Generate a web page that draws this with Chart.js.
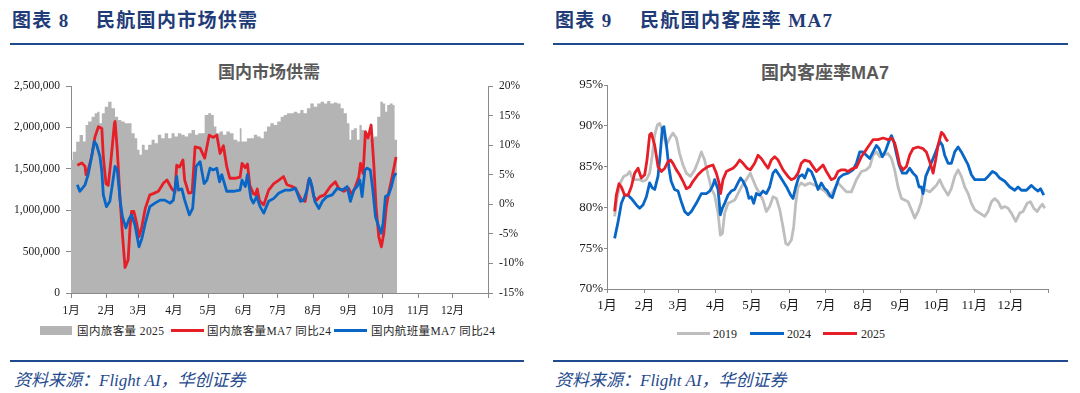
<!DOCTYPE html>
<html lang="zh-CN">
<head>
<meta charset="utf-8">
<title>民航国内市场供需 / 客座率</title>
<script src="https://cdn.jsdelivr.net/npm/chart.js@4.4.1/dist/chart.umd.min.js"></script>
<style>
    body { margin: 0; width: 1080px; height: 393px; background: #fff; position: relative; overflow: hidden;
           font-family: "Liberation Serif", "Noto Sans CJK SC", serif; }
    .abs { position: absolute; white-space: nowrap; }
    .head { font-size: 19px; font-weight: bold; color: #1f3c78; line-height: 20px; top: 11px; letter-spacing: 1.3px; }
    .rule { position: absolute; height: 2px; background: #1f4b8e; }
    .ctitle { font-family: "Liberation Sans", "Noto Sans CJK SC", sans-serif; font-weight: bold; color: #595959;
              line-height: 20px; top: 63px; transform: translateX(-50%); }
    .leg { font-size: 11.5px; color: #262626; line-height: 14px; top: 324px; letter-spacing: 0.4px; }
    .leg2 { font-size: 12px; color: #262626; line-height: 14px; top: 327px; }
    .src { font-style: italic; font-size: 17px; color: #1f4b8e; top: 371px; line-height: 20px; }
    canvas { position: absolute; top: 50px; }
</style>
</head>
<body>
<!-- left panel -->
<div class="abs head" style="left:12px">图表 8</div>
<div class="abs head" style="left:96px">民航国内市场供需</div>
<div class="rule" style="left:10px;width:514px;top:43px"></div>
<div class="abs ctitle" style="left:269px;font-size:17px">国内市场供需</div>
<canvas id="supplyChart" width="540" height="270" style="left:0"></canvas>
<div class="abs" style="left:40px;top:326px;width:32px;height:9px;background:#b4b4b4"></div>
<div class="abs leg" style="left:77px">国内旅客量 2025</div>
<div class="abs" style="left:171px;top:329px;width:33px;height:3px;background:#e61e28"></div>
<div class="abs leg" style="left:207px">国内旅客量MA7 同比24</div>
<div class="abs" style="left:334px;top:329px;width:33px;height:3px;background:#0866c6"></div>
<div class="abs leg" style="left:371px">国内航班量MA7 同比24</div>
<div class="rule" style="left:10px;width:514px;top:360px"></div>
<div class="abs src" style="left:14px">资料来源：Flight AI，华创证券</div>

<!-- right panel -->
<div class="abs head" style="left:555px">图表 9</div>
<div class="abs head" style="left:640px">民航国内客座率 MA7</div>
<div class="rule" style="left:553px;width:515px;top:43px"></div>
<div class="abs ctitle" style="left:825px;font-size:18px">国内客座率MA7</div>
<canvas id="loadChart" width="540" height="270" style="left:540px"></canvas>
<div class="abs" style="left:677px;top:332px;width:33px;height:3px;background:#bebebe"></div>
<div class="abs leg2" style="left:713px">2019</div>
<div class="abs" style="left:750px;top:332px;width:34px;height:3px;background:#0866c6"></div>
<div class="abs leg2" style="left:787px">2024</div>
<div class="abs" style="left:823px;top:332px;width:34px;height:3px;background:#e61e28"></div>
<div class="abs leg2" style="left:861px">2025</div>
<div class="rule" style="left:553px;width:515px;top:360px"></div>
<div class="abs src" style="left:555px">资料来源：Flight AI，华创证券</div>

<script>
// --- shared x axis: day of year, ticks at month starts ---
const monthStarts = [0, 31, 59, 90, 120, 151, 181, 212, 243, 273, 304, 334, 365];
const monthLabels = ['1月', '2月', '3月', '4月', '5月', '6月', '7月', '8月', '9月', '10月', '11月', '12月', ''];

// --- 图表8: domestic passengers 2025 (daily) ---
const paxDays = [0, 3, 6, 9, 12, 13.5, 16.5, 19.5, 22, 24, 26, 28, 31, 34, 37, 40, 42.5, 45.5, 48.5, 51.5,
    54.5, 57, 59, 61, 63, 66, 69, 72, 74.5, 77.5, 80.5, 83.5, 86.5, 89.5, 92, 95, 98, 101, 104, 107,
    110, 112.5, 115.5, 118.5, 121.5, 124, 126, 128.5, 131.5, 134.5, 137.5, 140.5, 144, 147, 148.5, 150, 152.5, 155.5, 158.5, 161.5,
    164.5, 167.5, 170, 173, 176, 179, 182, 185, 187.5, 190.5, 193.5, 196.5, 199.5, 202, 205, 208, 211, 214, 217, 220,
    223, 225.5, 228.5, 231.5, 234.5, 237.5, 240, 243, 244.5, 246, 249, 251.5, 253.5, 255.5, 257.5, 260.5, 263.5, 266.5, 269.5, 272,
    274, 276, 277.5, 280.5, 282.5, 284, 285.5];
const paxValues = [1606000, 1707000, 1827000, 1908000, 1830000, 2030000, 2070000, 2130000, 2170000, 2190000,
    2050000, 2170000, 2250000, 2310000, 2230000, 2130000, 2090000, 2070000, 2050000, 2050000,
    1930000, 1870000, 1730000, 1670000, 1790000, 1730000, 1790000, 1850000, 1810000, 1910000,
    1870000, 1930000, 1870000, 1930000, 1890000, 1930000, 1910000, 1890000, 1930000, 1970000,
    1910000, 1930000, 1930000, 2150000, 2170000, 2150000, 2010000, 1930000, 1950000, 1910000,
    1950000, 1930000, 1850000, 1830000, 1990000, 1830000, 1830000, 1870000, 1870000, 1910000,
    1890000, 1870000, 1950000, 2010000, 2050000, 2030000, 2070000, 2130000, 2150000, 2170000,
    2170000, 2190000, 2170000, 2210000, 2170000, 2230000, 2290000, 2250000, 2290000, 2310000,
    2290000, 2320000, 2290000, 2300000, 2290000, 2230000, 2170000, 2050000, 1850000, 1970000,
    1990000, 1850000, 2030000, 1970000, 1870000, 1910000, 1870000, 1890000, 2130000, 2310000,
    2290000, 2190000, 2270000, 2290000, 2270000, 1850000, 1850000];

// passengers MA7, yoy vs 2024 (%)
const paxYoYDays = [5.5, 9.5, 12.3, 13.2, 15, 18, 21, 24, 27, 28.3, 30.6, 32.6, 35, 38, 38.6, 40.5, 43, 45, 47.3, 50,
    51.7, 53, 55, 57.5, 59.5, 62, 65, 69, 72, 76.5, 81, 84, 88, 91, 92.5, 95, 98, 99.5, 103, 106,
    108.6, 113, 117, 121, 124.5, 127.6, 130.5, 133.4, 136.3, 139, 143.5, 148, 149.7, 152.5, 154.5, 156.5, 159.6, 161.4, 163, 165,
    168.7, 173, 177.5, 182, 186, 189, 193.5, 196.5, 199.4, 202, 205, 208, 209.5, 212.5, 215, 218, 222, 227, 231.4, 234.3,
    238.8, 243, 246, 249, 252, 253.4, 255.7, 257.7, 260, 262.7, 265, 267, 269.4, 271.7, 273.8, 276, 278, 280.5, 282.6, 284.5];
const paxYoY = [6.6, 7.0, 6.4, 5.0, 5.8, 8.0, 11.4, 13.1, 12.8, 8.0, 3.5, 3.2, 7.5, 13.7, 14.0, 9.2, 0.7, -5.0, -10.7, -9.4,
    -3.8, -1.2, -1.2, -3.2, -5.5, -3.8, -0.7, 1.6, 1.8, 2.2, 3.6, 4.1, 2.7, 2.0, 6.6, 6.3, 7.5, 4.1, 1.9, 2.0,
    9.7, 9.5, 7.8, 11.7, 11.3, 11.7, 8.6, 9.9, 6.4, 4.4, 4.4, 4.6, 6.9, 6.2, 6.8, 3.2, 1.8, 1.6, 2.6, 0.6,
    -0.1, 2.4, 3.5, 4.1, 4.7, 3.3, 3.0, 2.7, 1.6, 0.7, 0.5, 4.1, 4.1, 1.3, 0.7, 1.3, 1.6, 3.0, 3.8, 2.7,
    2.2, 2.7, 1.6, 3.0, 4.7, 6.9, 5.2, 12.3, 11.2, 13.4, 6.9, -0.4, -5.5, -7.2, -4.9, -0.4, 1.9, 4.1, 6.1, 8.0];

// flights MA7, yoy vs 2024 (%)
const flightYoYDays = [5.5, 7.7, 12.3, 15, 18, 20.4, 22.5, 25.4, 27, 28.3, 31, 34, 35.5, 38.5, 40.5, 43, 45, 48, 51, 53,
    56, 59.5, 62, 65, 69, 73.5, 78, 82, 86.7, 89.6, 92.5, 94, 97, 99.5, 103.6, 106.5, 109.5, 113, 116.5, 119,
    121.7, 124.5, 127.6, 130, 132, 136.3, 142, 148, 149.7, 152.6, 154.4, 157.5, 159.6, 162.5, 165.5, 168.7, 173, 177.5, 182, 187.7,
    192, 196.4, 200.8, 203.7, 206.6, 208.7, 211, 213.4, 217, 220, 224, 228.6, 233, 237.5, 241.7, 244.6, 247.5, 250.4, 252.8, 254.8,
    257.2, 259.2, 262, 264.2, 266.5, 269.4, 271.5, 273.2, 275.2, 278, 280.5, 282.6, 284.5];
const flightYoY = [3.3, 2.2, 3.3, 5.0, 8.0, 10.6, 10.0, 8.0, 5.5, 1.6, -0.4, 0.5, 2.4, 6.4, 5.8, 0.7, -2.1, -4.0, -2.4, -1.8,
    -3.5, -7.2, -5.8, -3.2, -0.4, 0.2, 0.7, 0.7, 0.2, 0.7, 4.7, 2.4, 2.6, 0.7, -1.8, -0.7, 6.4, 7.2, 3.5, 4.1,
    6.1, 5.8, 6.1, 3.8, 5.0, 2.2, 2.2, 2.4, 4.1, 3.0, 5.0, 1.0, 0.2, 1.3, -0.4, -1.5, 0.5, 1.0, 1.9, 2.4,
    2.4, 2.7, 0.5, 0.7, 2.4, 4.4, 3.0, 0.5, -0.7, 0.5, 1.3, 1.6, 2.7, 2.4, 3.0, 0.5, 2.4, 3.0, 4.1, 1.3,
    5.8, 6.1, 5.8, 2.4, -2.1, -3.8, -4.9, -3.2, 1.3, 1.6, 3.0, 4.7, 5.3];

const paxTicks = { min: 0, max: 2500000, step: 500000 };
const yoyTicks = { min: -15, max: 20, step: 5 };

// --- 图表9: domestic load factor MA7 (%) ---
const lf2019Days = [6.3, 8.3, 11, 13.8, 16.6, 18.8, 21.5, 24.3, 27, 29.8, 32.6, 35.3, 37.5, 39.5, 41.7, 43.6, 45.8, 49, 51.9, 54.6,
    57.4, 60.1, 62.9, 65.7, 69, 72.6, 75.3, 78.1, 80.8, 83.6, 86.4, 89.1, 91.9, 93.8, 95.5, 97.4, 100.2, 102.9, 105.7, 108.4,
    111.2, 115.3, 118.6, 120.8, 123.6, 126.4, 129.1, 131.9, 134.6, 137.4, 140.2, 143, 145.7, 147.9, 149.8, 152.6, 154.5, 156.2, 158.1, 160.8,
    163.6, 167.8, 171.9, 176, 180.2, 184.3, 191.2, 198.1, 202.3, 206.4, 210.5, 214.7, 217.5, 220.2, 223, 225.8, 228.5, 232.6, 235.4, 238.1,
    240.9, 243.7, 246.4, 249.2, 252, 254.7, 257.5, 260.2, 261.6, 264.4, 267.1, 269.9, 272.6, 275.4, 278.1, 282.3, 285, 287.8, 290.6, 293.3,
    296.1, 298.9, 301.6, 304.4, 308.5, 312.6, 315.4, 318.2, 320.9, 323.7, 326.4, 329.2, 332, 334.7, 338.3, 341.6, 344.4, 347.7, 350.4, 353.2,
    356, 358.7, 360.4, 362.3];
const lf2019 = [78.9, 81.1, 83.0, 83.8, 84.0, 84.4, 83.4, 83.4, 83.4, 83.2, 83.4, 84.2, 86.4, 88.9, 90.1, 90.3, 89.5, 87.6, 88.5, 89.1,
    88.5, 86.6, 85.2, 84.2, 83.8, 84.6, 85.6, 86.8, 85.8, 84.0, 82.3, 81.5, 79.3, 76.6, 76.8, 79.3, 80.5, 80.7, 80.9, 81.7,
    82.5, 83.4, 84.2, 83.4, 82.4, 81.7, 80.9, 79.5, 80.1, 81.3, 81.1, 79.7, 77.6, 75.6, 75.4, 76.0, 77.6, 80.5, 82.5, 83.0,
    82.7, 83.0, 82.7, 82.4, 82.0, 81.3, 83.0, 81.9, 81.9, 83.4, 84.4, 84.6, 85.0, 86.4, 86.8, 86.2, 86.4, 86.6, 86.0, 84.6,
    82.5, 81.1, 80.9, 80.7, 79.7, 78.7, 79.5, 80.7, 82.1, 82.1, 81.9, 82.3, 82.7, 83.4, 82.5, 81.5, 82.3, 83.8, 84.6, 83.8,
    82.5, 81.7, 80.5, 79.7, 79.3, 78.9, 79.5, 80.7, 81.1, 80.7, 79.9, 80.1, 79.9, 79.3, 78.3, 79.3, 79.5, 80.5, 80.7, 79.9,
    79.5, 80.1, 80.4, 79.9];

const lf2024Days = [6.3, 9, 11.9, 14.6, 17.4, 20.1, 24.3, 27, 29.8, 32.6, 35.3, 37.5, 39.5, 42.2, 44.1, 45.8, 47.1, 49, 51.3, 53.1,
    55.9, 58.8, 61.5, 64.3, 67.1, 69.8, 73.9, 78.1, 82.2, 85, 87.7, 89.1, 91.9, 93.8, 95.5, 97.4, 100.2, 102.9, 105.7, 108.4,
    110.6, 112.6, 115.3, 117.5, 119.5, 121.4, 123.6, 126.4, 129.1, 131.9, 134.6, 137.4, 139.6, 142.3, 145.7, 149, 152, 154, 156.2, 158.9,
    161.7, 163.6, 166.4, 169.1, 171.9, 174.7, 177.4, 180.2, 182, 184.3, 186.5, 189.3, 192, 195.4, 199.5, 203.6, 206.4, 209.2, 211.9, 214.7,
    217.5, 220.2, 223, 225.2, 227.9, 230.7, 233.4, 235.4, 237.3, 239.5, 241.7, 244.5, 247.8, 250.5, 253.3, 256, 258.3, 260.2, 261.6, 263.8,
    266.6, 269.9, 272.6, 275.4, 277.6, 279.5, 282.3, 285, 287.8, 290.6, 293.3, 296.1, 298.9, 301.6, 304.4, 308.5, 312.6, 315.4, 319, 321.7,
    325, 329.2, 333.4, 337.5, 340.2, 343, 347.1, 351.3, 354, 356.8, 358.8, 361.5];
const lf2024 = [76.2, 78.1, 80.5, 81.5, 81.5, 81.1, 80.3, 79.9, 80.3, 81.3, 83.0, 82.4, 82.2, 83.8, 86.6, 89.7, 89.9, 87.9, 84.8, 83.2,
    82.2, 82.0, 80.7, 79.5, 79.1, 79.5, 80.5, 81.7, 81.7, 82.0, 82.7, 83.4, 82.2, 79.1, 79.9, 80.5, 81.5, 82.0, 82.2, 83.0,
    83.6, 83.2, 82.4, 81.1, 81.3, 80.5, 81.7, 81.5, 82.0, 81.7, 82.5, 84.2, 84.6, 84.0, 83.2, 82.4, 81.5, 81.1, 82.5, 83.8,
    84.0, 83.6, 84.7, 84.4, 83.4, 82.2, 83.0, 82.3, 82.1, 81.5, 81.2, 82.5, 83.6, 84.0, 84.2, 84.6, 85.4, 86.8, 86.8, 86.4,
    86.0, 86.8, 87.6, 87.2, 86.2, 87.0, 88.1, 88.8, 88.1, 86.6, 85.2, 84.2, 84.2, 84.8, 84.2, 83.8, 82.5, 82.5, 81.7, 83.8,
    84.8, 86.0, 87.0, 88.1, 87.6, 86.4, 85.4, 85.4, 86.8, 87.4, 86.8, 86.0, 85.2, 84.0, 83.4, 83.4, 83.4, 83.8, 84.4, 84.2,
    83.6, 83.2, 82.5, 82.1, 82.5, 82.1, 82.1, 82.7, 82.3, 82.0, 82.3, 81.5];

const lf2025Days = [6.3, 7.7, 9.9, 11.9, 14.6, 17.4, 20.1, 22.9, 25.7, 28.4, 31.2, 33.1, 35.3, 36.7, 39.5, 42.2, 45, 47.8, 50.5, 52.7,
    54.6, 57.4, 60.1, 62.9, 65.7, 68.4, 71.2, 75.3, 79.5, 83.6, 87.7, 90.5, 92.7, 94, 96, 98.8, 101.5, 104.3, 107, 109.8,
    112.6, 115.9, 118.6, 122.2, 125, 127.7, 130.4, 133.3, 136, 138.8, 141.6, 145.7, 149.8, 152.6, 155.4, 158.1, 160.8, 163.6, 167.8, 170.5,
    173.3, 176, 178.8, 181.6, 185.7, 188.5, 191.2, 194, 196.7, 199.5, 202.3, 206.4, 210.5, 213.3, 216, 220.2, 224.3, 228.5, 232.6, 235.4,
    238.1, 240, 242.3, 245, 247.8, 250.5, 253.3, 257.4, 261.6, 264.3, 267.1, 269.9, 272, 274, 276.8, 278.8, 280.9, 282.3];
const lf2025 = [79.5, 81.5, 82.9, 82.5, 81.5, 81.5, 82.5, 84.2, 84.8, 83.6, 84.0, 85.8, 88.9, 89.1, 87.6, 85.0, 84.4, 84.8, 85.6, 85.8,
    85.4, 84.6, 84.0, 83.2, 82.3, 82.5, 83.2, 84.0, 84.6, 85.0, 85.2, 84.2, 83.0, 81.7, 83.4, 84.4, 84.6, 84.8, 85.2, 85.8,
    85.4, 84.8, 84.6, 85.4, 86.4, 86.0, 85.4, 84.8, 85.8, 86.2, 85.8, 84.6, 83.8, 83.4, 83.6, 84.2, 85.4, 85.8, 85.6, 85.0,
    84.4, 84.8, 85.2, 84.4, 83.4, 83.6, 84.4, 84.6, 84.6, 84.4, 84.7, 84.9, 86.2, 86.8, 87.4, 88.3, 88.3, 88.5, 88.3, 88.5,
    87.9, 86.8, 85.2, 84.6, 85.0, 86.4, 87.2, 87.4, 87.2, 86.8, 85.6, 84.2, 85.8, 87.6, 89.2, 88.9, 88.3, 88.1];

const lfTicks = { min: 70, max: 95, step: 5 };

// --- styling helpers ---
const AXIS = '#8a8a8a';
const TICK_FONT = '"Liberation Serif", "Noto Sans CJK SC", serif';
const RED = '#e61e28';
const BLUE = '#0866c6';

const toPoints = (days, values) => days.map((d, i) => ({ x: d, y: values[i] }));

const lineSet = (label, days, values, color, axis, order) => ({
    label, data: toPoints(days, values), yAxisID: axis, order,
    borderColor: color, borderWidth: 2.8, pointRadius: 0, fill: false,
    tension: 0, borderJoinStyle: 'round',
});

const dayAxis = (height, fontSize, tickLength, padding) => ({
    type: 'linear', min: 0, max: 365,
    afterBuildTicks: s => { s.ticks = monthStarts.map(v => ({ value: v })); },
    afterFit: s => { s.height = height; },
    grid: { drawOnChartArea: false, color: AXIS, tickLength },
    border: { color: AXIS, width: 1 },
    ticks: {
        autoSkip: false, maxRotation: 0, padding, color: '#1a1a1a',
        font: { family: TICK_FONT, size: fontSize },
        callback: (v, i) => monthLabels[i],
    },
});

const valueAxis = (position, range, width, fontSize, tickLength, padding, fmt) => ({
    position, min: range.min, max: range.max,
    afterFit: s => { s.width = width; },
    grid: { drawOnChartArea: false, color: AXIS, tickLength },
    border: { color: AXIS, width: 1 },
    ticks: {
        stepSize: range.step, padding, color: '#1a1a1a',
        font: { family: TICK_FONT, size: fontSize },
        callback: fmt,
    },
});

const baseOptions = (padding, scales) => ({
    responsive: false, animation: false, devicePixelRatio: 1,
    layout: { padding },
    plugins: { legend: { display: false }, tooltip: { enabled: false } },
    scales,
});

// --- 图表8 ---
new Chart(document.getElementById('supplyChart'), {
    type: 'line',
    data: {
        datasets: [
            {
                label: '国内旅客量 2025', data: toPoints(paxDays, paxValues), yAxisID: 'y', order: 3,
                stepped: 'middle', fill: 'origin', backgroundColor: '#b4b4b4',
                borderColor: 'rgba(0,0,0,0)', borderWidth: 0, pointRadius: 0,
            },
            lineSet('国内旅客量MA7 同比24', paxYoYDays, paxYoY, RED, 'y1', 2),
            lineSet('国内航班量MA7 同比24', flightYoYDays, flightYoY, BLUE, 'y1', 1),
        ],
    },
    options: baseOptions({ top: 36, left: 0, right: 0, bottom: 0 }, {
        x: dayAxis(27, 11.5, 5, 6),
        y: valueAxis('left', paxTicks, 71, 11.5, 5, 6, v => v.toLocaleString('en-US')),
        y1: valueAxis('right', yoyTicks, 52, 11.5, 5, 6, v => v + '%'),
    }),
});

// --- 图表9 ---
new Chart(document.getElementById('loadChart'), {
    type: 'line',
    data: {
        datasets: [
            lineSet('2019', lf2019Days, lf2019, '#bebebe', 'y', 3),
            lineSet('2024', lf2024Days, lf2024, BLUE, 'y', 2),
            lineSet('2025', lf2025Days, lf2025, RED, 'y', 1),
        ],
    },
    options: baseOptions({ top: 35, left: 0, right: 32, bottom: 0 }, {
        x: dayAxis(31, 13, 4, 5),
        y: valueAxis('left', lfTicks, 67, 13, 3, 1, v => v + '%'),
    }),
});
</script>
</body>
</html>
